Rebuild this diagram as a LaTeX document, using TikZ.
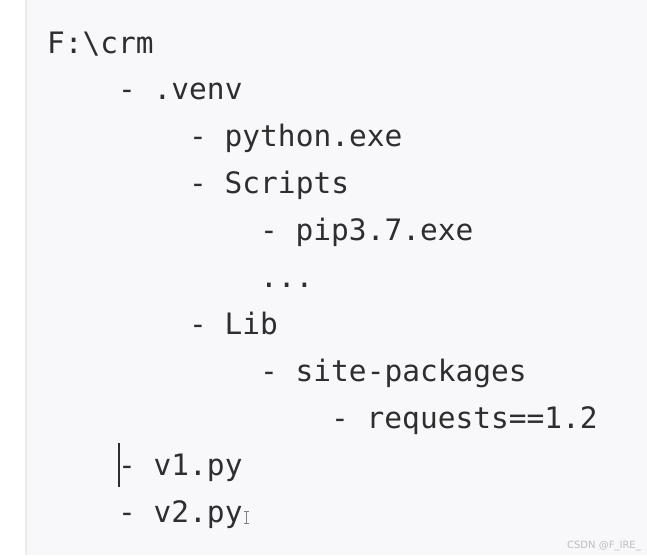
\documentclass[tikz,border=0pt]{standalone}
\usepackage{fontspec}
\setmonofont{DejaVu Sans Mono}
\setsansfont{DejaVu Sans}
\definecolor{panel}{HTML}{F8F7FA}
\definecolor{panelrim}{HTML}{EAEAEC}
\definecolor{ink}{HTML}{2E2E2E}
\definecolor{mark}{HTML}{BDBDBD}

\begin{document}
\begin{tikzpicture}[x=1pt, y=-1pt,
  line/.style={anchor=base west, inner sep=0pt, text=ink, font=\ttfamily\fontsize{29.5}{30}\selectfont},
  caret/.style={draw=ink, line width=1.6pt},
  ibeam/.style={draw=black!50, line width=0.8pt}]
\useasboundingbox (0,0) rectangle (647,555);
\fill[white] (0,0) rectangle (647,555);
\fill[panel] (25,0) rectangle (647,555);
\draw[panelrim, line width=2pt] (26,0) -- (26,555);
\node[line] (root) at (47,53) {F:\textbackslash crm};
\node[line] (venv) at (118,99.9) {- .venv};
\node[line] (pyexe) at (189,146.8) {- python.exe};
\node[line] (scripts) at (189,193.7) {- Scripts};
\node[line] (pip) at (260,240.6) {- pip3.7.exe};
\node[line] (more) at (260,287.5) {...};
\node[line] (lib) at (189,334.4) {- Lib};
\node[line] (site) at (260,381.3) {- site-packages};
\node[line] (req) at (331,428.2) {- requests==1.2};
\node[line] (vone) at (118,475.1) {- v1.py};
\node[line] (vtwo) at (118,522) {- v2.py};
\draw[caret] (119,443) -- (119,487);
\draw[ibeam] (246,511) -- (246,523) (243.5,511) -- (248.5,511) (243.5,523) -- (248.5,523);
\node[anchor=base east, inner sep=0pt, text=mark, font=\sffamily\fontsize{10}{10}\selectfont] (wm) at (641,548) {CSDN @F\_IRE\_};
\end{tikzpicture}
\end{document}
